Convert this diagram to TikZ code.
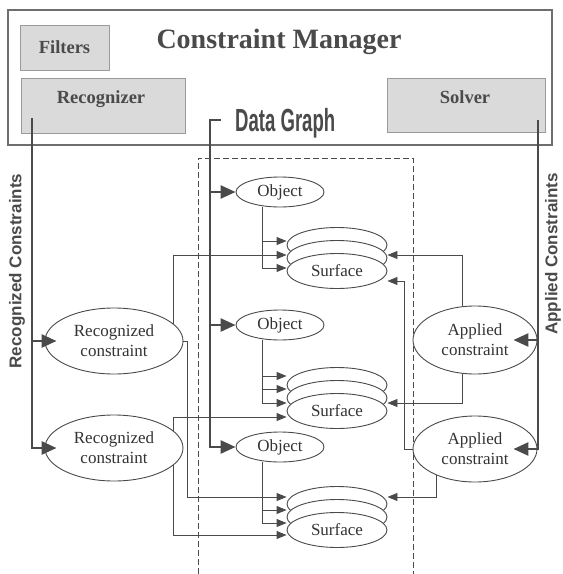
\documentclass[tikz,border=0pt]{standalone}
\usepackage{fontspec}
\usepackage{graphicx}
\setmainfont{Liberation Serif}
\newfontfamily\sansb{Liberation Sans}
\usetikzlibrary{arrows.meta,shapes.geometric}
\definecolor{ink}{HTML}{333333}
\definecolor{lin}{HTML}{4A4A4A}
\definecolor{boxfill}{HTML}{DADADA}
\definecolor{boxline}{HTML}{9A9A9A}
\definecolor{hdr}{HTML}{4A4A4A}
\begin{document}
\begin{tikzpicture}[x=1pt,y=-1pt,
  gbox/.style={draw=boxline,fill=boxfill,line width=0.8pt,inner sep=0pt},
  btxt/.style={font=\fontsize{18.5}{20}\selectfont\bfseries,text=hdr},
  elab/.style={draw=lin,fill=white,ellipse,inner sep=0pt,line width=0.9pt,
    font=\fontsize{17}{20}\selectfont,text=ink,align=center},
  objn/.style={elab,minimum width=88,minimum height=30},
  surf/.style={elab,minimum width=100,minimum height=35},
  cons/.style={elab,minimum width=138,minimum height=66},
  appl/.style={elab,minimum width=124,minimum height=68},
  thk/.style={draw=lin,line width=2.6pt,-{Triangle[length=15pt,width=13pt]}},
  thn/.style={draw=lin,line width=0.9pt,-{Triangle[length=10pt,width=8pt]}},
  sidet/.style={rotate=90,font=\sansb\bfseries\fontsize{17}{19}\selectfont,text=hdr},
]
\fill[white] (0,0) rectangle (563,574);
\useasboundingbox (0,0) rectangle (563,574);

% Constraint manager panel
\node[draw=lin!80,line width=1.2pt,minimum width=544,minimum height=135,inner sep=0pt] (cm) at (280,77.5) {};
\node[gbox,minimum width=89,minimum height=45] (filt) at (64.5,47.5) {};
\node[btxt] (filtt) at (filt) {Filters};
\node[anchor=base,font=\fontsize{28}{30}\selectfont\bfseries,text=hdr] (cmt) at (279,48) {Constraint Manager};
\node[gbox,minimum width=164,minimum height=55] (rec) at (103,105.5) {};
\node[btxt,anchor=base] (rect) at (101,103) {Recognizer};
\node[gbox,minimum width=158,minimum height=54] (sol) at (466,105) {};
\node[btxt,anchor=base] (solt) at (465,103) {Solver};

% Data graph label and dashed frame
\node[anchor=base west,inner sep=0pt,font=\sansb\bfseries\fontsize{32}{34}\selectfont,text=hdr] (dgt) at (235,131) {\scalebox{0.58}[1]{Data Graph}};
\draw[lin,line width=0.9pt,dash pattern=on 6pt off 3pt] (198,574) -- (198,158) -- (413,158) -- (413,574);

% side labels
\node[sidet] (rcl) at (17,271) {Recognized Constraints};
\node[sidet] (acl) at (553,254) {Applied Constraints};

% objects
\node[objn] (o1) at (280,192) {Object};
\node[objn] (o2) at (280,325) {Object};
\node[objn] (o3) at (280,447) {Object};

% surface stacks
\node[surf] (s1a) at (337,245) {};
\node[surf] (s1b) at (337,258) {};
\node[surf] (s1c) at (337,271) {Surface};
\node[surf] (s2a) at (337,385) {};
\node[surf] (s2b) at (337,398) {};
\node[surf] (s2c) at (337,411) {Surface};
\node[surf] (s3a) at (337,504) {};
\node[surf] (s3b) at (337,517) {};
\node[surf] (s3c) at (337,530) {Surface};

% constraints
\node[cons] (rc1) at (114,341) {Recognized\\constraint};
\node[cons] (rc2) at (114,448) {Recognized\\constraint};
\node[appl] (ac1) at (475,340) {Applied\\constraint};
\node[appl,minimum height=66] (ac2) at (475,449) {Applied\\constraint};

% thin connectors: objects to surfaces
\draw[thn] ([xshift=-18pt]o1.south) |- ([yshift=30pt]s1c.west);
\draw[thn] ([xshift=-18pt]o1.south) |- ([yshift=3pt]s1c.west);
\draw[thn] ([xshift=-18pt]o2.south) |- ([yshift=35pt]s2c.west);
\draw[thn] ([xshift=-18pt]o2.south) |- ([yshift=22pt]s2c.west);
\draw[thn] ([xshift=-18pt]o2.south) |- ([yshift=8pt]s2c.west);
\draw[thn] ([xshift=-18pt]o3.south) |- ([yshift=20pt]s3c.west);
\draw[thn] ([xshift=-18pt]o3.south) |- ([yshift=7pt]s3c.west);

% recognized constraints to surfaces
\draw[thn] (rc1.16) |- ([yshift=16pt]s1c.west);
\draw[thn] (rc1.east) -- ++(4,0) |- ([yshift=33pt]s3c.west);
\draw[thn] (rc2.16) |- ([yshift=-6pt]s2c.west);
\draw[thn] (rc2.-16) |- ([yshift=-5pt]s3c.west);

% applied constraints to surfaces
\draw[thn] (ac1.111) |- ([yshift=16pt]s1c.east);
\draw[thn] (ac2.west) -- ++(-8,0) |- ([yshift=-10pt]s1c.east);
\draw[thn] (ac1.-111) |- ([yshift=8pt]s2c.east);
\draw[thn] (ac2.214) |- ([yshift=33pt]s3c.east);

% thick connectors
\coordinate (rtop) at (32,118);
\draw[thk] (rtop) |- ([xshift=12pt]rc2.west);
\draw[thk] (rtop |- rc1.west) -- ([xshift=12pt]rc1.west);
\coordinate (stop) at (538,120);
\draw[thk] (stop) |- ([xshift=-24pt]ac2.east);
\draw[thk] (stop |- ac1.east) -- ([xshift=-24pt]ac1.east);
\coordinate (dgs) at (221,120);
\coordinate (dgc) at (210,120);
\draw[thk] (dgs) -- (dgc) |- (o3.west);
\draw[thk] (dgc |- o1.west) -- (o1.west);
\draw[thk] (dgc |- o2.west) -- (o2.west);
\end{tikzpicture}
\end{document}
